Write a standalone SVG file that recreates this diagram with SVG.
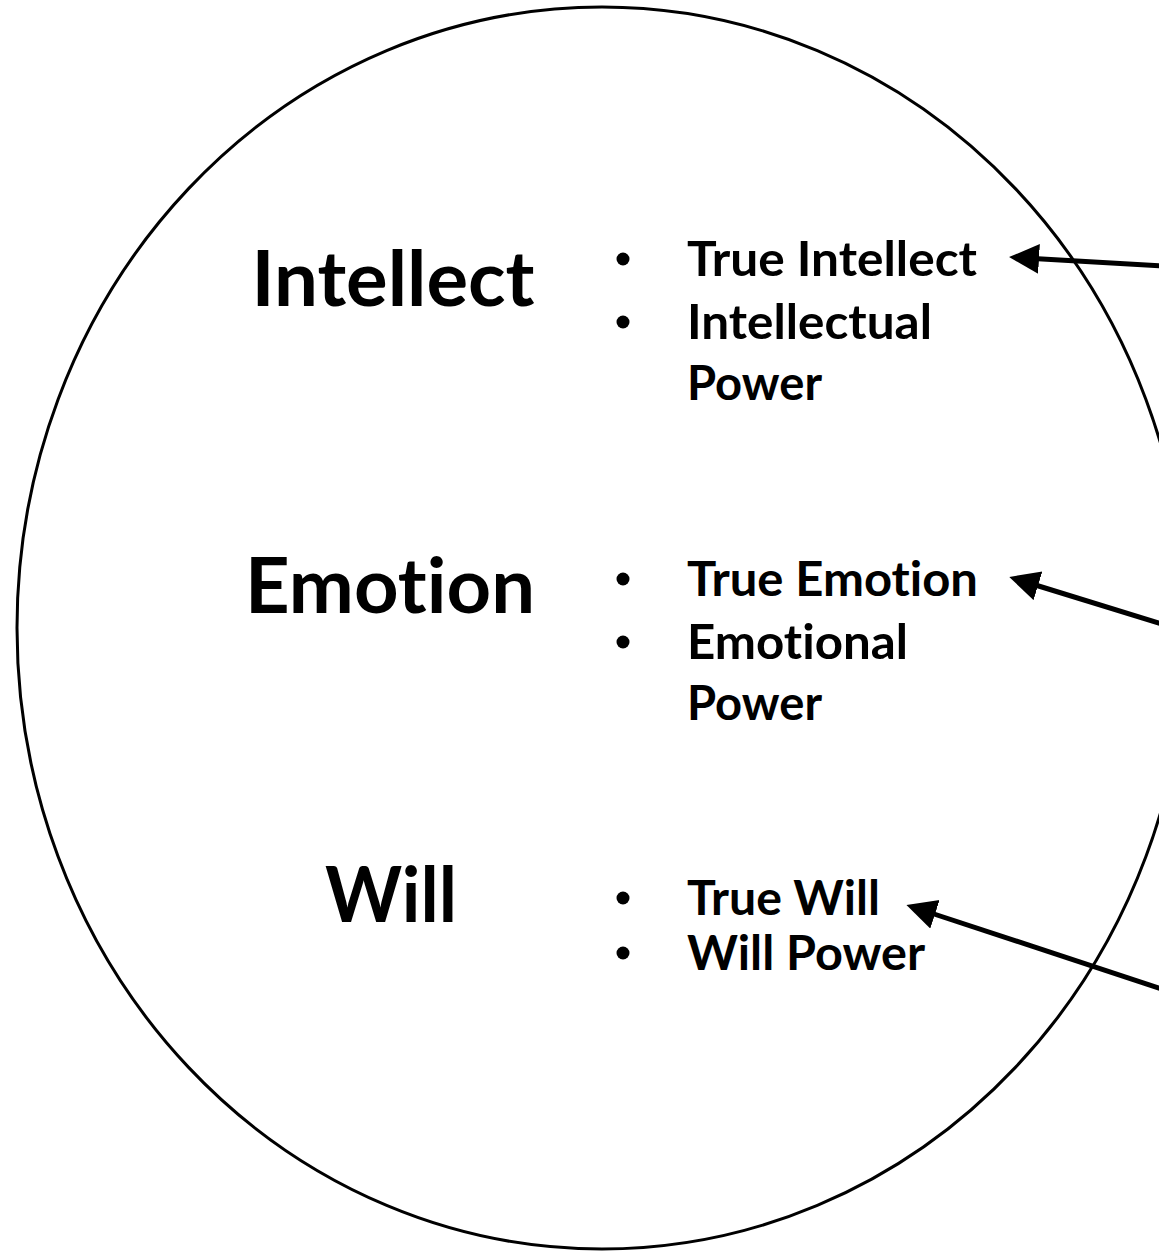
<svg xmlns="http://www.w3.org/2000/svg" width="1159" height="1253" viewBox="0 0 1159 1253">
<style>
.big{font-family:Lato,"Open Sans","Liberation Sans",sans-serif;font-weight:700;font-size:76px;fill:#000;text-anchor:middle;font-variant-ligatures:none;font-feature-settings:"liga" 0}
.item{font-family:Lato,"Open Sans","Liberation Sans",sans-serif;font-weight:700;font-size:47px;fill:#000;font-variant-ligatures:none;font-feature-settings:"liga" 0}
.conn{stroke:#000;stroke-width:5;fill:none}
</style>
<defs>
<marker id="ah" markerUnits="userSpaceOnUse" markerWidth="32" markerHeight="32" viewBox="0 0 32 32" refX="1" refY="15" orient="auto">
<path d="M0,0 L30,15 L0,30 z" fill="#000"/>
</marker>
</defs>
<rect width="1159" height="1253" fill="#fff"/>
<g id="circle">
<ellipse cx="602" cy="628" rx="585" ry="621" fill="none" stroke="#000" stroke-width="3"/>
</g>
<g id="intellect">
<text class="big" x="393" y="306" textLength="283" lengthAdjust="spacingAndGlyphs">Intellect</text>
<circle cx="623" cy="259" r="6.5"/>
<circle cx="623" cy="322" r="6.5"/>
<text class="item" x="687" y="276" textLength="290" lengthAdjust="spacingAndGlyphs">True Intellect</text>
<text class="item" x="687" y="339" textLength="245" lengthAdjust="spacingAndGlyphs">Intellectual</text>
<text class="item" x="687" y="400" textLength="135" lengthAdjust="spacingAndGlyphs">Power</text>
</g>
<g id="emotion">
<text class="big" x="390" y="613" textLength="290" lengthAdjust="spacingAndGlyphs">Emotion</text>
<circle cx="623" cy="579" r="6.5"/>
<circle cx="623" cy="642" r="6.5"/>
<text class="item" x="687" y="596" textLength="291" lengthAdjust="spacingAndGlyphs">True Emotion</text>
<text class="item" x="687" y="659" textLength="221" lengthAdjust="spacingAndGlyphs">Emotional</text>
<text class="item" x="687" y="720" textLength="135" lengthAdjust="spacingAndGlyphs">Power</text>
</g>
<g id="will">
<text class="big" x="391" y="922" textLength="132" lengthAdjust="spacingAndGlyphs">Will</text>
<circle cx="623" cy="898" r="6.5"/>
<circle cx="623" cy="953" r="6.5"/>
<text class="item" x="687" y="915" textLength="193" lengthAdjust="spacingAndGlyphs">True Will</text>
<text class="item" x="687" y="970" textLength="238" lengthAdjust="spacingAndGlyphs">Will Power</text>
</g>
<g id="connectors">
<line class="conn" x1="1162" y1="266" x2="1038" y2="258.8" marker-end="url(#ah)"/>
<line class="conn" x1="1162" y1="624" x2="1037" y2="585.5" marker-end="url(#ah)"/>
<line class="conn" x1="1162" y1="989" x2="934" y2="914" marker-end="url(#ah)"/>
</g>
</svg>
